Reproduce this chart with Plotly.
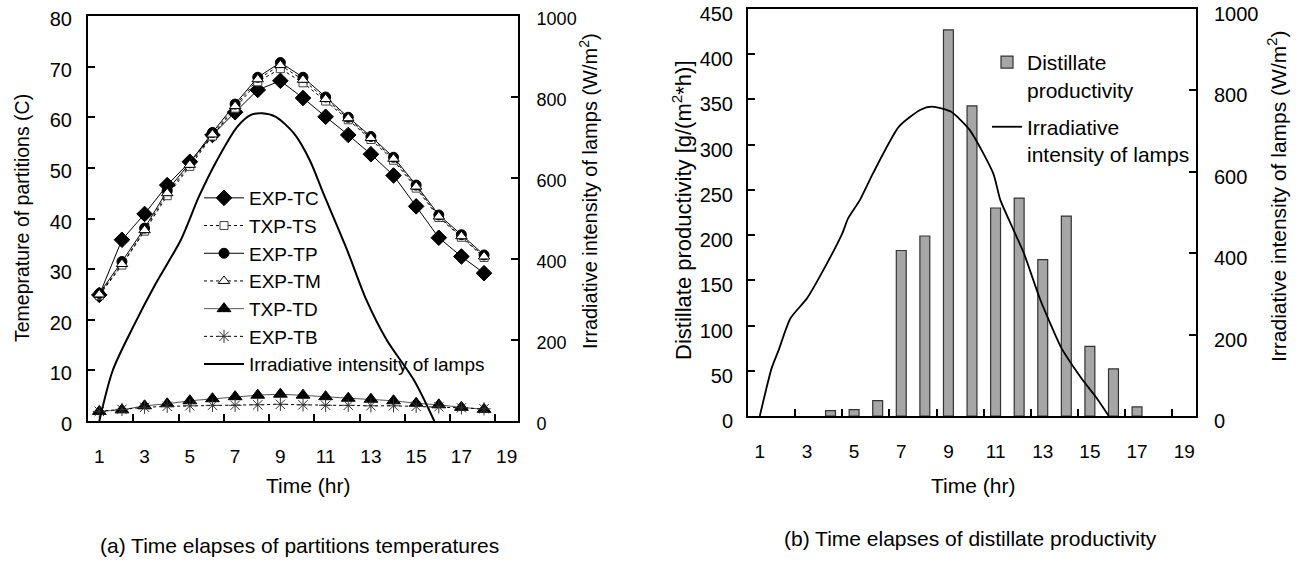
import plotly.graph_objects as go

W, H = 1298, 562
FONT = "Arial, Liberation Sans, sans-serif"

def px(x):
    return x / W

def py(y):
    return 1 - y / H

# ---------------- data: chart (a) ----------------
hours_a = list(range(1, 19))
exp_tc = [24.9, 35.8, 40.9, 46.6, 51.2, 56.5, 61.0, 65.4, 67.2, 63.8, 60.1, 56.5, 52.7, 48.5, 42.4, 36.2, 32.5, 29.2]
txp_ts = [24.8, 30.8, 37.5, 44.5, 50.3, 56.3, 61.8, 67.0, 69.6, 66.8, 63.2, 59.5, 55.6, 51.5, 46.0, 40.2, 36.3, 32.3]
exp_tp = [25.2, 31.5, 38.1, 45.5, 51.0, 57.0, 62.6, 67.9, 70.8, 67.9, 64.0, 60.0, 56.2, 52.1, 46.6, 40.7, 36.8, 32.8]
exp_tm = [25.0, 31.0, 37.7, 45.0, 50.6, 56.6, 62.2, 67.5, 70.3, 67.4, 63.6, 59.8, 55.9, 51.8, 46.3, 40.4, 36.5, 32.5]
txp_td = [1.9, 2.2, 3.0, 3.4, 4.0, 4.4, 4.8, 5.1, 5.3, 5.1, 4.8, 4.5, 4.3, 4.0, 3.5, 3.2, 2.7, 2.3]
exp_tb = [1.9, 2.3, 2.7, 2.9, 3.0, 3.1, 3.1, 3.2, 3.3, 3.2, 3.1, 3.1, 3.0, 3.0, 2.9, 2.8, 2.6, 2.4]
lamp_x_a = [1.0, 1.6, 2.5, 3.5, 4.6, 5.4, 6.2, 7.1, 7.7, 8.2, 8.8, 9.6, 10.3, 10.9, 11.95, 12.8, 13.7, 14.9, 15.8]
lamp_a = [0, 126, 233, 340, 447, 554, 644, 727, 756, 760, 751, 710, 644, 562, 422, 299, 200, 101, 0]

# ---------------- data: chart (b) ----------------
hours_b = list(range(1, 20))
distillate = [None, None, None, 6, 7, 17, 183, 199, 427, 343, 230, 241, 173, 221, 77, 52, 10, None, None]
lamp_x_b = [1.0, 1.5, 1.8, 2.3, 3.0, 3.7, 4.5, 4.75, 5.25, 5.8, 6.9, 7.8, 8.3, 9.1, 9.9, 10.9, 11.2, 11.7, 12.2, 12.9, 13.8, 14.3, 14.7, 15.3, 15.8]
lamp_b = [0, 117, 162, 240, 289, 359, 449, 486, 531, 596, 711, 752, 760, 748, 703, 596, 531, 465, 400, 285, 166, 121, 88, 43, 0]

odd_ticks = list(range(1, 20, 2))
minor_vals = [x + 0.5 for x in range(2, 19, 2)]

fig = go.Figure()

def tline(name, y, dash, color, symbol, size, mfill, mline="black", lw=1):
    fig.add_trace(go.Scatter(
        x=hours_a, y=y, name=name, mode="lines+markers", legend="legend",
        line=dict(color=color, width=lw, dash=dash),
        marker=dict(symbol=symbol, size=size, color=mfill, line=dict(color=mline, width=1)),
        cliponaxis=False, xaxis="x", yaxis="y"))

tline("EXP-TC", exp_tc, "solid", "black", "diamond", 12, "black")
tline("TXP-TS", txp_ts, "dot", "black", "square", 8, "white", "#444")
tline("EXP-TP", exp_tp, "solid", "black", "circle", 10, "black")
tline("EXP-TM", exp_tm, "dot", "black", "triangle-up", 10, "white")
tline("TXP-TD", txp_td, "solid", "#555", "triangle-up", 12, "black")
tline("EXP-TB", exp_tb, "dot", "black", "asterisk-open", 11, "#333", "#333")

fig.add_trace(go.Scatter(
    x=lamp_x_a, y=lamp_a, name="Irradiative intensity of lamps", mode="lines",
    line=dict(color="black", width=2, shape="spline", smoothing=0.8),
    legend="legend", xaxis="x", yaxis="y2"))

fig.add_trace(go.Bar(
    x=hours_b, y=distillate, name="Distillate<br>productivity", width=0.42,
    marker=dict(color="#a6a6a6", line=dict(color="#333", width=1.2)),
    legend="legend2", legendgroup="g1", xaxis="x2", yaxis="y3"))
fig.add_trace(go.Scatter(
    x=lamp_x_b, y=lamp_b, name="Irradiative<br>intensity of lamps", mode="lines",
    line=dict(color="black", width=1.8, shape="spline", smoothing=0.6),
    legend="legend2", legendgroup="g2", xaxis="x2", yaxis="y4"))

def xax(dom, anchor):
    return dict(domain=dom, anchor=anchor, range=[0.5, 19.5], tickmode="array", tickvals=odd_ticks,
                ticks="", showline=True, linecolor="black", linewidth=2, mirror=True,
                showgrid=False, zeroline=False, ticklabelstandoff=17, automargin=False,
                ticklabeloverflow="allow",
                tickfont=dict(size=19, color="black", family=FONT),
                minor=dict(tickmode="array", tickvals=minor_vals, ticks="inside", ticklen=7,
                           tickcolor="black", tickwidth=1.5, showgrid=False))

def yax(dom, anchor, rng, dt, side="left", overlay=None, standoff=12, size=19, shift=0):
    d = dict(anchor=anchor, range=rng, dtick=dt, tick0=0, ticks="inside", ticklen=7, tickwidth=1.5,
             tickcolor="black", showline=True, linecolor="black", linewidth=2, showgrid=False,
             zeroline=False, side=side, ticklabelstandoff=standoff, automargin=False,
             ticklabeloverflow="allow", ticklabelshift=shift,
             tickfont=dict(size=size, color="black", family=FONT))
    if overlay:
        d["overlaying"] = overlay
    else:
        d["domain"] = dom
    return d

fig.update_layout(
    width=W, height=H, margin=dict(l=0, r=0, t=0, b=0, autoexpand=False),
    paper_bgcolor="white", plot_bgcolor="white",
    font=dict(family=FONT, color="black", size=19),
    xaxis=xax([px(88), px(518)], "y"),
    yaxis=yax([py(421), py(16)], "x", [0, 80], 10, standoff=10, size=20, shift=3),
    yaxis2=yax(None, "x", [0, 1000], 200, side="right", overlay="y", standoff=13, size=18, shift=3),
    xaxis2=xax([px(748), px(1196)], "y3"),
    yaxis3=yax([py(416), py(9)], "x2", [0, 450], 50, standoff=9, size=20, shift=5),
    yaxis4=yax(None, "x2", [0, 1000], 200, side="right", overlay="y3", standoff=12, size=20, shift=5),
    legend=dict(x=px(199), y=py(179), xanchor="left", yanchor="top",
                bgcolor="rgba(0,0,0,0)", font=dict(size=19, family=FONT, color="black"),
                tracegroupgap=0, itemwidth=40),
    legend2=dict(x=px(987), y=py(42), xanchor="left", yanchor="top", valign="top",
                 bgcolor="rgba(0,0,0,0)", font=dict(size=21, family=FONT, color="black"),
                 tracegroupgap=7, itemwidth=30),
    showlegend=True,
)

ann = [
    dict(x=22, y=218, text="Temeprature of partitions (C)", textangle=-90, size=19.5),
    dict(x=589, y=191, text="Irradiative intensity of lamps (W/m<sup>2</sup>)", textangle=-90, size=20),
    dict(x=308, y=485, text="Time (hr)", textangle=0, size=21),
    dict(x=299, y=545, text="(a) Time elapses of partitions temperatures", textangle=0, size=21),
    dict(x=682, y=210, text="Distillate productivity [g/(m<sup>2</sup>*h)]", textangle=-90, size=22),
    dict(x=1277, y=197, text="Irradiative intensity of lamps (W/m<sup>2</sup>)", textangle=-90, size=21),
    dict(x=973, y=485, text="Time (hr)", textangle=0, size=21),
    dict(x=970, y=538, text="(b) Time elapses of distillate productivity", textangle=0, size=21),
]
for a in ann:
    fig.add_annotation(x=px(a["x"]), y=py(a["y"]), xref="paper", yref="paper",
                       text=a["text"], textangle=a["textangle"], showarrow=False,
                       xanchor="center", yanchor="middle",
                       font=dict(size=a["size"], family=FONT, color="black"))

# remove the browser's default 8px body margin so the 1298x562 figure fills the window
fig.write_html("out.html", config={"displayModeBar": False},
               post_script="document.body.style.margin='0px';document.body.style.overflow='hidden';")
